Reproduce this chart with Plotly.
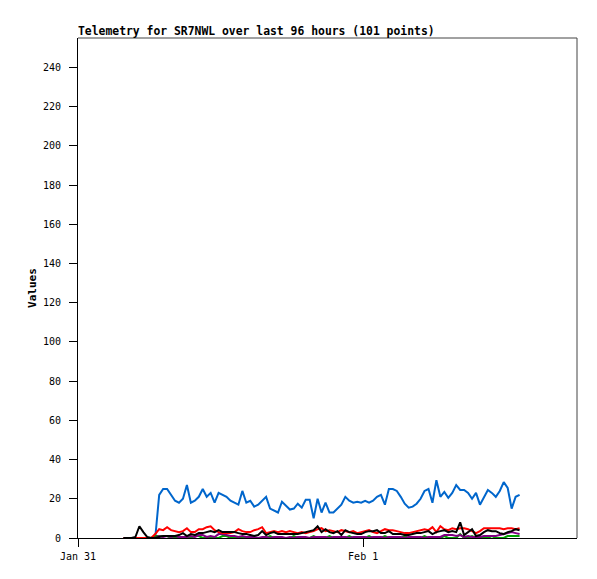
import pandas as pd
import plotly.graph_objects as go

TITLE = "Telemetry for SR7NWL over last 96 hours (101 points)"
START = "2024-01-31 03:50"
STEP = "20min"
N = 101
times = pd.date_range(START, periods=N, freq=STEP)

blue = [0, 0, 0, 0, 0, 0, 0, 0, 0, 22, 25, 25, 22, 19, 18, 20, 27, 18, 19, 21,
        25, 21, 23, 18, 23, 22, 21, 19, 18, 17, 24, 18, 19, 16, 17, 19, 21, 15, 14, 13,
        18.5, 16.5, 14.5, 15, 17.5, 15.5, 19.5, 19.5, 10, 20, 13, 18, 13, 13, 15, 17, 21, 19, 18, 18.5,
        18, 19, 18, 19, 21, 22, 17, 25, 25, 24, 21, 17.5, 15.5, 16, 17.5, 20, 24, 25, 18, 29.5,
        21, 23.5, 20.5, 23, 27, 24.5, 24.5, 23, 20, 23, 17, 21, 24.5, 23, 21, 24, 28.5, 25.5, 15, 21,
        22]
red = [0, 0, 0, 0, 0, 0, 0, 0, 2, 4.5, 4, 5.5, 4, 3.5, 3, 3.5, 5, 3, 3, 4.5,
       4.5, 5.5, 6, 4, 3, 2.5, 2.5, 2.5, 3, 4.5, 3.5, 3, 3, 4, 4.5, 5.5, 2.5, 3, 3.5, 3,
       3.5, 3, 3.5, 3, 2.5, 3, 2.5, 3, 3.5, 4.5, 5, 3.5, 4, 3.5, 3, 4, 3.5, 3, 3.5, 2.5,
       3, 3.5, 4, 3, 2.5, 3.5, 4.5, 4, 4, 3.5, 3, 2.5, 2.5, 3, 3.5, 4, 4.5, 4, 5.5, 3,
       6, 4.5, 4, 5, 4.5, 5, 5, 4.5, 3.5, 2.5, 3.5, 5, 5, 5, 5, 5, 4.5, 5, 5, 4.5,
       5]
black = [0, 0, 0, 0.5, 6, 3, 0.5, 0, 0, 0.5, 1, 1, 1, 1, 1.5, 2.5, 1, 2, 1.5, 2.5,
         2.5, 3, 3.5, 3, 4, 3, 3, 3, 3, 2.5, 2, 2, 1.5, 1, 1.5, 3.5, 1.5, 2.5, 3, 2,
         2, 2, 2, 2, 2, 2.5, 3, 3.5, 4, 6, 3, 4.5, 3, 2.5, 3.5, 1.5, 4, 3, 2.5, 2,
         2, 3, 3.5, 3.5, 4, 2.5, 2.5, 3.5, 2, 2, 2, 1.5, 1.5, 2, 2.5, 2.5, 3, 3.5, 2, 3,
         3.5, 4, 3, 3.5, 3, 8, 1.5, 3, 4.5, 1, 1.5, 3, 4, 3.5, 3.5, 2.5, 2, 3, 3.5, 4.5,
         4]
green = [0, 0, 0, 0, 0, 0, 0, 0, 1, 1, 1, 1, 0, 0, 0, 0, 0, 0, 1, 1,
         0, 0, 0, 0, 0, 1, 1, 0, 0, 0, 0, 0, 1, 0, 0, 0, 0, 1, 0, 0,
         0, 0, 0, 1, 0, 0, 0, 0, 1, 0, 0, 0, 1, 0, 0, 0, 0, 1, 0, 0,
         0, 0, 1, 0, 0, 0, 1, 0, 0, 0, 0, 1, 0, 0, 0, 0, 1, 0, 0, 0,
         0, 1, 0, 0, 0, 2, 0, 0, 1, 0, 0, 0, 0, 1, 0, 0, 0, 1, 1, 1,
         1]
purple = [0, 0, 0, 0, 0, 0, 0, 0, 0, 1, 0.5, 1, 0.5, 1, 0.5, 0.5, 0.5, 1, 0.5, 1.5,
          1.5, 0.5, 1, 0.5, 2, 2, 1.5, 1, 1, 0.5, 1, 0.5, 0.5, 0.5, 0, 0.5, 0.5, 0, 0.5, 0.5,
          0.5, 0, 0.5, 0, 0.5, 0.5, 0.5, 0, 0.5, 0.5, 0.5, 0.5, 0, 0.5, 0.5, 0.5, 0.5, 0, 0.5, 0.5,
          0.5, 0.5, 0, 0.5, 0.5, 0.5, 0, 0.5, 0.5, 0.5, 0.5, 0, 0.5, 0.5, 0.5, 0.5, 0, 0.5, 0.5, 0.5,
          0.5, 1.5, 1.5, 1.5, 1, 1.5, 0.5, 1, 0.5, 0.5, 0.5, 1, 1, 1, 1, 1.5, 2, 2.5, 3, 2.5,
          2]

series = [
    ("blue", blue, "#0066cc"),
    ("green", green, "#00a000"),
    ("purple", purple, "#800080"),
    ("red", red, "#ff0000"),
    ("black", black, "#000000"),
]

X_RANGE = ["2024-01-31 00:00", "2024-02-01 18:00"]
X_TICKS = ["2024-01-31", "2024-02-01"]
X_TICKTEXT = ["Jan 31", "Feb 1"]
Y_RANGE = [0, 255]

MONO = "DejaVu Sans Mono"

fig = go.Figure()
for name, vals, col in series:
    fig.add_trace(go.Scatter(x=times, y=vals, mode="lines", name=name,
                             line=dict(color=col, width=2), showlegend=False))

fig.update_layout(
    width=597, height=579,
    margin=dict(l=78, r=20, t=38, b=41),
    paper_bgcolor="white", plot_bgcolor="white",
    font=dict(family=MONO, size=10, color="black"),
    showlegend=False,
)
fig.update_xaxes(
    type="date", range=X_RANGE, tickvals=X_TICKS, ticktext=X_TICKTEXT,
    showgrid=False, zeroline=False, showline=True, linecolor="black", linewidth=1,
    ticks="outside", ticklen=8, tickcolor="black", tickwidth=1,
    ticklabelstandoff=1, tickfont=dict(family=MONO, size=10),
)
fig.update_yaxes(
    range=Y_RANGE, dtick=20, tick0=0,
    showgrid=False, zeroline=False, showline=True, linecolor="black", linewidth=1,
    ticks="outside", ticklen=8, tickcolor="black", tickwidth=1,
    ticklabelstandoff=6, tickfont=dict(family=MONO, size=10),
    title=dict(text="<b>Values</b>", font=dict(family=MONO, size=11), standoff=4),
)
# frame: top and right in dark grey
fig.add_shape(type="line", xref="paper", yref="paper", x0=0, x1=1, y0=1, y1=1,
              line=dict(color="#444444", width=1))
fig.add_shape(type="line", xref="paper", yref="paper", x0=1, x1=1, y0=0, y1=1,
              line=dict(color="#444444", width=1))
fig.add_annotation(text="<b>" + TITLE + "</b>", xref="paper", yref="paper",
                   x=0, y=1, xanchor="left", yanchor="bottom", showarrow=False,
                   xshift=-2, yshift=-2, font=dict(family=MONO, size=11.4, color="black"))

fig.write_html("out.html", config={"displayModeBar": False},
               post_script="document.body.style.margin='0';")
